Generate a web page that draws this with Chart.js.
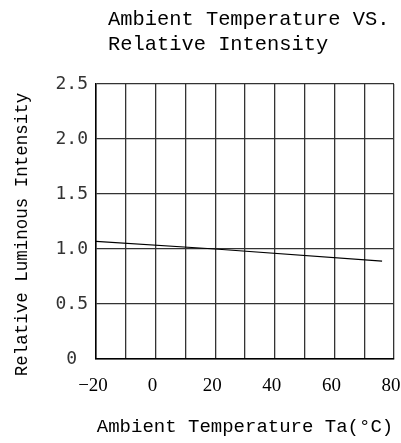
<!DOCTYPE html>
<html>
<head>
<meta charset="utf-8">
<script src="https://cdn.jsdelivr.net/npm/chart.js@4"></script>
<style>
  body { margin: 0; background: #fff; }
  #wrap { width: 401px; height: 443px; position: relative; }
</style>
</head>
<body>
<div id="wrap"><canvas id="myChart"></canvas></div>
<script>
'use strict'

// data
var temps = [-20, 20, 76];
var intensity = [1.07, 1.0, 0.89];
var xTickLabels = [-20, 0, 20, 40, 60, 80];
var yTickLabels = ['0', '0.5', '1.0', '1.5', '2.0', '2.5'];
var titleLines = ['Ambient Temperature VS.', 'Relative Intensity'];
var yTitle = 'Relative Luminous Intensity';
var xTitle = 'Ambient Temperature Ta(°C)';

var points = temps.map(function(t, i) {
  return { x: t, y: intensity[i] };
});

// two-line title and the y title, placed like in the picture
var textPlugin = {
  id: 'extraText',
  afterDraw: function(chart) {
    var ctx = chart.ctx;
    var area = chart.chartArea;
    ctx.save();
    ctx.fillStyle = '#000';
    ctx.font = '20.4px "Liberation Mono"';
    ctx.textBaseline = 'alphabetic';
    ctx.textAlign = 'left';
    titleLines.forEach(function(line, i) {
      ctx.fillText(line, area.left + 12, 25 + i * 25);
    });
    ctx.translate(22, (area.top + area.bottom) / 2 + 13);
    ctx.rotate(-Math.PI / 2);
    ctx.textAlign = 'center';
    ctx.textBaseline = 'middle';
    ctx.font = '17.5px "Liberation Mono"';
    ctx.fillText(yTitle, 0, 0);
    ctx.restore();
  }
};

var gridColor = '#333';

var ctx = document.getElementById('myChart').getContext('2d');
var chart = new Chart(ctx, {
  type: 'line',
  data: {
    datasets: [{
      data: points,
      borderColor: '#000',
      borderWidth: 1.2,
      pointRadius: 0,
      tension: 0
    }]
  },
  options: {
    responsive: true,
    maintainAspectRatio: false,
    animation: false,
    layout: { padding: { top: 84, left: 7, right: 0, bottom: 1 } },
    plugins: {
      legend: { display: false },
      tooltip: { enabled: false }
    },
    scales: {
      x: {
        type: 'linear',
        min: -20,
        max: 80,
        grid: { color: gridColor, lineWidth: 1.3, drawTicks: false },
        border: { color: '#000', width: 1.5 },
        ticks: {
          stepSize: 10,
          autoSkip: false,
          maxRotation: 0,
          padding: 16,
          labelOffset: -3,
          color: '#000',
          font: { family: '"Liberation Serif"', size: 19 },
          callback: function(v) {
            return xTickLabels.indexOf(v) >= 0 ? String(v).replace('-', '\u2212') : '';
          }
        },
        title: {
          display: true,
          text: xTitle,
          color: '#000',
          font: { family: '"Liberation Mono"', size: 19 },
          padding: { top: 18, bottom: 4 }
        },
        afterFit: function(s) {
          s.height = 83;
          s.paddingLeft = 0;
          s.paddingRight = 7;
        }
      },
      y: {
        min: 0,
        max: 2.5,
        grid: { color: gridColor, lineWidth: 1.3, drawTicks: false },
        border: { color: '#000', width: 1.5 },
        ticks: {
          stepSize: 0.5,
          padding: 8,
          crossAlign: 'center',
          color: '#333',
          font: { family: '"DejaVu Sans Mono"', size: 18 },
          callback: function(v, i) {
            return yTickLabels[i];
          }
        },
        afterFit: function(s) {
          s.width = 89;
          s.paddingTop = 0;
          s.paddingBottom = 0;
        }
      }
    }
  },
  plugins: [textPlugin]
});
</script>
</body>
</html>
